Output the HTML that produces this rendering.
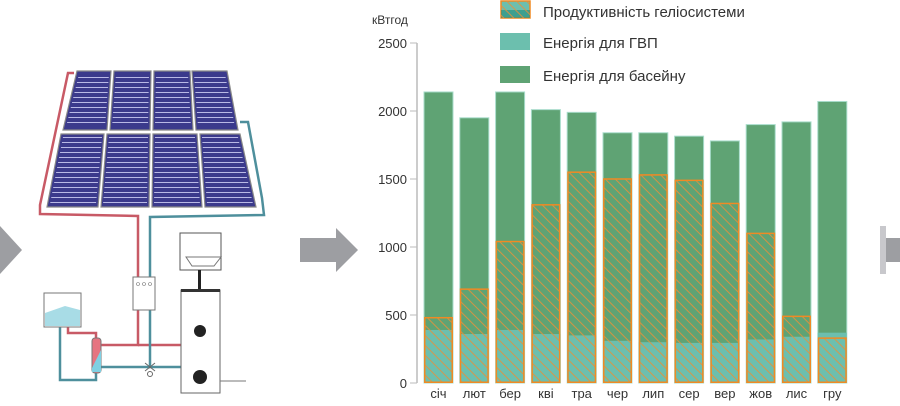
<!DOCTYPE html>
<html><head><meta charset="utf-8"><style>
html,body{margin:0;padding:0;background:#fff}
svg{display:block}
text{font-family:"Liberation Sans","DejaVu Sans",sans-serif;fill:#333}
</style></head><body>
<svg width="900" height="406" viewBox="0 0 900 406" xmlns="http://www.w3.org/2000/svg">
<defs>
<pattern id="h" patternUnits="userSpaceOnUse" width="7" height="7" patternTransform="rotate(-45)">
<rect width="7" height="7" fill="none"/>
<line x1="0" y1="0" x2="0" y2="7" stroke="#e8903a" stroke-width="1.8" opacity="0.95"/>
</pattern>
<pattern id="st" patternUnits="userSpaceOnUse" width="10" height="5">
<line x1="0" y1="2.5" x2="10" y2="2.5" stroke="#b9b9e6" stroke-width="1"/>
</pattern>
</defs>
<polygon points="0,226 22,250 0,274" fill="#9d9ea2"/>
<polygon points="300,238 336,238 336,228 358,250 336,272 336,262 300,262" fill="#9d9ea2"/>
<polygon points="886,238 900,238 900,262 886,262" fill="#9d9ea2"/>
<polygon points="880,226 886,226 886,274 880,274" fill="#c8c8cc"/>
<path d="M74,73 L68,73 L40,205 L40,214 L138,216 L138,345 L98,345" fill="none" stroke="#c85a66" stroke-width="2.5"/>
<path d="M138,345 L181,345" fill="none" stroke="#c85a66" stroke-width="2.5"/>
<path d="M240,122 L248,122 L262,198 L264,215 L150,217 L150,367 L181,367" fill="none" stroke="#4e8f9c" stroke-width="2.5"/>
<path d="M100,367 L150,367" fill="none" stroke="#4e8f9c" stroke-width="2.5"/>
<path d="M60,327 L60,380 L96,380 L96,372" fill="none" stroke="#4e8f9c" stroke-width="2.5"/>
<path d="M68,327 L68,333 L96,333 L96,340" fill="none" stroke="#c85a66" stroke-width="2.5"/>
<g stroke="#888" stroke-width="1.2">
<polygon points="77,71 111,71 107,130 63,130" fill="#3b3a8c"/>
<polygon points="114,71 151,71 150,130 110,130" fill="#3b3a8c"/>
<polygon points="154,71 190,71 193,130 153,130" fill="#3b3a8c"/>
<polygon points="192,71 227,71 238,130 196,130" fill="#3b3a8c"/>
<polygon points="61,134 104,134 98,207 47,207" fill="#3b3a8c"/>
<polygon points="107,134 150,134 149,207 101,207" fill="#3b3a8c"/>
<polygon points="153,134 197,134 202,207 152,207" fill="#3b3a8c"/>
<polygon points="200,134 240,134 256,207 205,207" fill="#3b3a8c"/>
</g>
<g fill="url(#st)">
<polygon points="79,74 109,74 105,127 66,127"/>
<polygon points="116,74 149,74 148,127 112,127"/>
<polygon points="156,74 188,74 191,127 155,127"/>
<polygon points="194,74 225,74 235,127 198,127"/>
<polygon points="63,137 102,137 96,204 50,204"/>
<polygon points="109,137 148,137 147,204 103,204"/>
<polygon points="155,137 195,137 200,204 154,204"/>
<polygon points="202,137 238,137 253,204 207,204"/>
</g>
<rect x="133" y="277" width="22" height="33" fill="#fff" stroke="#777"/>
<circle cx="138" cy="284" r="1.5" fill="none" stroke="#777" stroke-width=".6"/><circle cx="144" cy="284" r="1.5" fill="none" stroke="#777" stroke-width=".6"/><circle cx="150" cy="284" r="1.5" fill="none" stroke="#777" stroke-width=".6"/>
<rect x="180" y="233" width="41" height="37" fill="#fff" stroke="#555"/>
<path d="M186,257 L221,257 L214,266 L192,266 Z" fill="#fff" stroke="#777"/>
<rect x="198" y="270" width="3" height="20" fill="#222"/>
<rect x="181" y="290" width="39" height="103" fill="#fff" stroke="#666"/>
<rect x="181" y="289" width="39" height="3" fill="#333"/>
<circle cx="200" cy="331" r="6" fill="#222"/>
<circle cx="200" cy="377" r="7" fill="#222"/>
<line x1="220" y1="381" x2="246" y2="381" stroke="#777"/>
<rect x="44" y="293" width="37" height="34" fill="#fff" stroke="#777"/>
<path d="M45,313 L65,306 L80,310 L80,326 L45,326 Z" fill="#a8dce6"/>
<rect x="92" y="338" width="9" height="35" rx="3" fill="#e67480" stroke="#777"/>
<polygon points="92,368 101,350 101,372 92,372" fill="#7fd0e2"/>
<path d="M145,363 L155,371 M145,371 L155,363" stroke="#666" fill="none"/>
<circle cx="150" cy="374" r="2.5" fill="#fff" stroke="#666"/>

<text x="372" y="24" font-size="12">кВтгод</text>
<line x1="417" y1="43" x2="417" y2="383" stroke="#bbb" stroke-width="1.5"/>
<g font-size="13" text-anchor="end">
<text x="407" y="388">0</text><line x1="410" y1="383" x2="417" y2="383" stroke="#bbb"/>
<text x="407" y="320">500</text><line x1="410" y1="315" x2="417" y2="315" stroke="#bbb"/>
<text x="407" y="252">1000</text><line x1="410" y1="247" x2="417" y2="247" stroke="#bbb"/>
<text x="407" y="184">1500</text><line x1="410" y1="179" x2="417" y2="179" stroke="#bbb"/>
<text x="407" y="116">2000</text><line x1="410" y1="111" x2="417" y2="111" stroke="#bbb"/>
<text x="407" y="48">2500</text><line x1="410" y1="43" x2="417" y2="43" stroke="#bbb"/>
</g>
<g id="bars"></g>
<rect x="501" y="1" width="29" height="17" fill="#6cbfae" stroke="#f08a24" stroke-width="1.5"/>
<rect x="501" y="10" width="29" height="8" fill="#1f8a7a" opacity=".6"/>
<rect x="501" y="1" width="29" height="17" fill="url(#h)"/>
<text x="543" y="17" font-size="15">Продуктивність геліосистеми</text>
<rect x="500" y="33" width="30" height="17" fill="#6cbfae"/>
<text x="543" y="48" font-size="15">Енергія для ГВП</text>
<rect x="500" y="66" width="30" height="17" fill="#5fa374"/>
<text x="543" y="81" font-size="15">Енергія для басейну</text>
</svg>
<script>
var d=[["січ",2140,480,390],["лют",1950,690,360],["бер",2140,1040,390],["кві",2010,1310,360],["тра",1990,1550,350],["чер",1840,1500,310],["лип",1840,1530,300],["сер",1815,1490,295],["вер",1780,1320,295],["жов",1900,1100,320],["лис",1920,490,340],["гру",2070,330,370]];
var g=document.getElementById("bars"),s="",k=0.136;
d.forEach(function(r,i){var x=424+i*35.8,w=29,y=function(v){return 383-v*k};
s+='<rect x="'+x+'" y="'+y(r[1])+'" width="'+w+'" height="'+(r[1]*k)+'" fill="#5fa374" stroke="#a8dccb" stroke-width="1"/>';
s+='<rect x="'+x+'" y="'+y(r[3])+'" width="'+w+'" height="'+(r[3]*k)+'" fill="#6cbfae"/>';
s+='<rect x="'+(x+0.75)+'" y="'+y(r[2])+'" width="'+(w-1.5)+'" height="'+(r[2]*k-0.75)+'" fill="url(#h)" stroke="#f08a24" stroke-width="1.5"/>';
s+='<text x="'+(x+w/2)+'" y="398" font-size="13" text-anchor="middle">'+r[0]+'</text>';});
g.innerHTML=s;
</script>
</body></html>
